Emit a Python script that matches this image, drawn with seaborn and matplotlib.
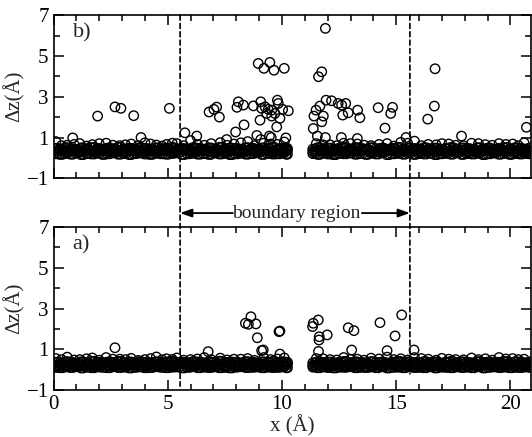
import numpy as np
import pandas as pd
import matplotlib
matplotlib.use("Agg")
import matplotlib.pyplot as plt
import seaborn as sns
from matplotlib.ticker import MultipleLocator, FixedLocator
from matplotlib.patches import ConnectionPatch, ArrowStyle

# ---------------- data ----------------
band_x = [0.05, 0.28, 0.5, 0.74, 0.96, 1.2, 1.43, 1.65, 1.9, 2.12, 2.35, 2.6, 2.82, 3.05, 3.3,
          3.52, 3.75, 3.98, 4.22, 4.45, 4.68, 4.92, 5.15, 5.38, 5.6, 5.85, 6.08, 6.3, 6.55, 6.78,
          7.0, 7.25, 7.48, 7.7, 7.95, 8.18, 8.4, 8.65, 8.88, 9.1, 9.35, 9.58, 9.8, 10.02, 10.18,
          11.35, 11.55, 11.78, 12.0, 12.25, 12.48, 12.7, 12.95, 13.18, 13.4, 13.65, 13.88, 14.1,
          14.35, 14.58, 14.8, 15.05, 15.28, 15.5, 15.75, 15.98, 16.2, 16.45, 16.68, 16.9, 17.15,
          17.38, 17.6, 17.85, 18.08, 18.3, 18.55, 18.78, 19.0, 19.25, 19.48, 19.7, 19.95, 20.18,
          20.4, 20.62, 20.82]
band_x2 = [0.16, 0.39, 0.62, 0.85, 1.08, 1.31, 1.54, 1.78, 2.01, 2.24, 2.47, 2.71, 2.94, 3.17,
           3.41, 3.63, 3.86, 4.1, 4.33, 4.56, 4.8, 5.03, 5.26, 5.49, 5.72, 5.96, 6.19, 6.42, 6.66,
           6.89, 7.12, 7.36, 7.59, 7.82, 8.06, 8.29, 8.52, 8.76, 8.99, 9.22, 9.46, 9.69, 9.91,
           10.1, 10.24, 11.45, 11.66, 11.89, 12.12, 12.36, 12.59, 12.82, 13.06, 13.29, 13.52,
           13.76, 13.99, 14.22, 14.46, 14.69, 14.92, 15.16, 15.39, 15.62, 15.86, 16.09, 16.32,
           16.56, 16.79, 17.02, 17.26, 17.49, 17.72, 17.96, 18.19, 18.42, 18.66, 18.89, 19.12,
           19.36, 19.59, 19.82, 20.06, 20.29, 20.51, 20.72, 20.88]

# panel b) band levels
b_lo = [0.2, 0.17, 0.22, 0.18, 0.24, 0.16, 0.21, 0.19, 0.23, 0.17, 0.2, 0.25, 0.18, 0.22, 0.16,
        0.21, 0.24, 0.19, 0.17, 0.23, 0.2, 0.18, 0.22, 0.25, 0.16, 0.2, 0.23, 0.18, 0.21, 0.17,
        0.24, 0.19, 0.22, 0.16, 0.2, 0.23, 0.18, 0.21, 0.25, 0.17, 0.22, 0.19, 0.2, 0.24, 0.18,
        0.21, 0.17, 0.23, 0.19, 0.16, 0.22, 0.2, 0.24, 0.18, 0.21, 0.17, 0.23, 0.19, 0.25, 0.16,
        0.2, 0.22, 0.18, 0.24, 0.17, 0.21, 0.19, 0.23, 0.16, 0.2, 0.22, 0.18, 0.25, 0.17, 0.21,
        0.19, 0.23, 0.16, 0.2, 0.24, 0.18, 0.22, 0.17, 0.21, 0.19, 0.23, 0.2]
b_mid = [0.33, 0.36, 0.31, 0.38, 0.34, 0.3, 0.37, 0.32, 0.35, 0.39, 0.31, 0.34, 0.37, 0.3, 0.36,
         0.33, 0.38, 0.31, 0.35, 0.32, 0.37, 0.34, 0.3, 0.36, 0.39, 0.33, 0.31, 0.37, 0.35, 0.32,
         0.34, 0.38, 0.3, 0.36, 0.33, 0.31, 0.37, 0.35, 0.32, 0.38, 0.34, 0.3, 0.36, 0.33, 0.37,
         0.32, 0.35, 0.38, 0.31, 0.34, 0.36, 0.3, 0.37, 0.33, 0.35, 0.39, 0.31, 0.34, 0.32, 0.37,
         0.35, 0.3, 0.36, 0.33, 0.38, 0.31, 0.34, 0.37, 0.32, 0.35, 0.3, 0.36, 0.33, 0.38, 0.31,
         0.35, 0.32, 0.37, 0.34, 0.3, 0.36, 0.33, 0.38, 0.31, 0.35, 0.32, 0.34]
b_hi = [0.47, 0.43, 0.5, 0.45, 0.42, 0.49, 0.44, 0.51, 0.46, 0.43, 0.48, 0.45, 0.52, 0.44, 0.47,
        0.42, 0.5, 0.46, 0.43, 0.49, 0.45, 0.48, 0.51, 0.44, 0.46, 0.42, 0.5, 0.47, 0.43, 0.49,
        0.45, 0.52, 0.44, 0.48, 0.46, 0.43, 0.5, 0.47, 0.42, 0.49, 0.45, 0.51, 0.44, 0.48, 0.46,
        0.43, 0.5, 0.45, 0.48, 0.42, 0.47, 0.51, 0.44, 0.49, 0.46, 0.43, 0.5, 0.45, 0.48, 0.42,
        0.47, 0.52, 0.44, 0.49, 0.46, 0.43, 0.5, 0.45, 0.48, 0.42, 0.47, 0.51, 0.44, 0.49, 0.46,
        0.43, 0.5, 0.45, 0.48, 0.42, 0.47, 0.51, 0.44, 0.49, 0.46, 0.43, 0.48]

# panel a) band levels
a_lo = [0.12, 0.1, 0.14, 0.11, 0.15, 0.09, 0.13, 0.1, 0.14, 0.12, 0.1, 0.15, 0.11, 0.13, 0.09,
        0.12, 0.14, 0.1, 0.11, 0.15, 0.12, 0.1, 0.13, 0.14, 0.09, 0.12, 0.15, 0.1, 0.13, 0.11,
        0.14, 0.1, 0.12, 0.09, 0.13, 0.15, 0.11, 0.12, 0.14, 0.1, 0.13, 0.11, 0.12, 0.15, 0.1,
        0.13, 0.1, 0.14, 0.11, 0.09, 0.13, 0.12, 0.15, 0.1, 0.12, 0.11, 0.14, 0.1, 0.15, 0.09,
        0.12, 0.13, 0.1, 0.14, 0.11, 0.12, 0.1, 0.15, 0.09, 0.13, 0.12, 0.1, 0.14, 0.11, 0.13,
        0.1, 0.15, 0.09, 0.12, 0.14, 0.11, 0.13, 0.1, 0.12, 0.11, 0.14, 0.12]
a_mid = [0.24, 0.27, 0.21, 0.28, 0.23, 0.2, 0.26, 0.22, 0.25, 0.29, 0.21, 0.24, 0.27, 0.2, 0.26,
         0.23, 0.28, 0.21, 0.25, 0.22, 0.27, 0.24, 0.2, 0.26, 0.29, 0.23, 0.21, 0.27, 0.25, 0.22,
         0.24, 0.28, 0.2, 0.26, 0.23, 0.21, 0.27, 0.25, 0.22, 0.28, 0.24, 0.2, 0.26, 0.23, 0.27,
         0.22, 0.25, 0.28, 0.21, 0.24, 0.26, 0.2, 0.27, 0.23, 0.25, 0.29, 0.21, 0.24, 0.22, 0.27,
         0.25, 0.2, 0.26, 0.23, 0.28, 0.21, 0.24, 0.27, 0.22, 0.25, 0.2, 0.26, 0.23, 0.28, 0.21,
         0.25, 0.22, 0.27, 0.24, 0.2, 0.26, 0.23, 0.28, 0.21, 0.25, 0.22, 0.24]
a_hi = [0.37, 0.34, 0.4, 0.36, 0.33, 0.39, 0.35, 0.42, 0.37, 0.34, 0.38, 0.36, 0.41, 0.35, 0.38,
        0.33, 0.4, 0.36, 0.34, 0.39, 0.36, 0.38, 0.41, 0.35, 0.37, 0.33, 0.4, 0.38, 0.34, 0.39,
        0.36, 0.42, 0.35, 0.38, 0.37, 0.34, 0.4, 0.37, 0.33, 0.39, 0.36, 0.41, 0.35, 0.38, 0.37,
        0.34, 0.4, 0.36, 0.38, 0.33, 0.37, 0.41, 0.35, 0.39, 0.36, 0.34, 0.4, 0.36, 0.38, 0.33,
        0.37, 0.42, 0.35, 0.39, 0.36, 0.34, 0.4, 0.36, 0.38, 0.33, 0.37, 0.41, 0.35, 0.39, 0.36,
        0.34, 0.4, 0.36, 0.38, 0.33, 0.37, 0.41, 0.35, 0.39, 0.36, 0.34, 0.38]

fringe_x = [0.1, 0.6, 1.15, 1.7, 2.3, 2.9, 3.4, 4.0, 4.5, 4.95, 5.4, 6.0, 6.6, 7.3, 7.9, 8.5,
            9.2, 9.8, 10.1, 11.5, 12.1, 12.7, 13.3, 13.9, 14.6, 15.2, 15.8, 16.4, 17.0, 17.6,
            18.3, 18.9, 19.5, 20.1, 20.6]
fringe_x2 = [0.35, 0.9, 1.45, 2.0, 2.6, 3.15, 3.7, 4.25, 4.75, 5.2, 5.7, 6.3, 6.9, 7.6, 8.2,
             8.8, 9.5, 11.8, 12.4, 13.0, 13.6, 14.25, 14.9, 15.5, 16.1, 16.75, 17.3, 17.95,
             18.6, 19.2, 19.8, 20.35]
b_fringe = [0.8, 0.62, 0.7, 0.65, 0.72, 0.6, 0.68, 0.74, 0.63, 0.66, 0.7, 0.85, 0.62, 0.75,
            0.68, 0.8, 0.72, 0.66, 0.78, 0.7, 0.64, 0.72, 0.68, 0.6, 0.7, 0.76, 0.82, 0.66,
            0.7, 0.62, 0.72, 0.65, 0.7, 0.68, 0.74]
b_fringe2 = [0.6, 0.66, 0.58, 0.7, 0.62, 0.64, 0.6, 0.68, 0.58, 0.72, 0.6, 0.66, 0.7, 0.62,
             0.74, 0.6, 0.68, 0.64, 0.6, 0.7, 0.62, 0.66, 0.58, 0.72, 0.6, 0.64, 0.68, 0.6,
             0.7, 0.62, 0.66, 0.6]
a_fringe = [0.55, 0.62, 0.5, 0.58, 0.6, 0.52, 0.56, 0.5, 0.63, 0.54, 0.58, 0.5, 0.6, 0.57,
            0.52, 0.55, 0.6, 0.53, 0.58, 0.55, 0.5, 0.6, 0.52, 0.57, 0.62, 0.54, 0.6, 0.52,
            0.56, 0.5, 0.58, 0.54, 0.6, 0.55, 0.52]
a_fringe2 = [0.5, 0.48, 0.54, 0.47, 0.52, 0.5, 0.46, 0.55, 0.49, 0.51, 0.47, 0.53, 0.5, 0.48,
             0.52, 0.46, 0.5, 0.54, 0.48, 0.51, 0.47, 0.53, 0.5, 0.48, 0.55, 0.47, 0.52, 0.49,
             0.5, 0.47, 0.53, 0.5]

# outliers
b_out_x = [0.84, 1.93, 2.69, 2.95, 3.51, 3.83, 5.07, 5.75, 6.27, 6.81, 7.02, 7.14, 7.26, 7.58,
           7.97, 8.03, 8.09, 8.31, 8.34, 8.75, 8.9, 8.96, 9.21, 9.47, 9.65, 10.1, 9.07, 9.11,
           9.26, 9.4, 9.55, 9.8, 9.84, 9.69, 10.03, 10.28, 9.91, 9.04, 9.77, 9.55, 9.33, 9.45,
           9.53, 10.17, 9.07, 11.9, 11.74, 11.6, 11.93, 12.17, 11.66, 11.49, 11.4, 11.81, 11.74,
           11.37, 11.55, 11.9, 12.46, 12.61, 12.79, 12.66, 12.9, 13.31, 13.41, 14.21, 14.84,
           14.76, 14.51, 16.7, 16.67, 16.38, 12.6, 13.3, 15.43, 17.86, 20.7]
b_out_y = [0.98, 2.05, 2.5, 2.43, 2.07, 1.0, 2.43, 1.23, 1.07, 2.25, 2.38, 2.49, 2.0, 0.9,
           1.27, 2.48, 2.75, 2.59, 1.62, 2.55, 1.1, 4.63, 4.39, 4.68, 4.3, 4.39, 2.75, 2.43,
           2.5, 2.38, 2.34, 2.83, 2.67, 2.18, 2.38, 2.31, 1.94, 1.85, 1.52, 2.05, 2.18, 1.07,
           1.0, 0.98, 0.9, 6.35, 4.22, 3.98, 2.83, 2.8, 2.54, 2.34, 2.05, 2.05, 1.77,
           1.44, 1.07, 1.0, 2.67, 2.59, 2.67, 2.1, 2.21, 2.34, 1.97, 2.46, 2.48,
           2.18, 1.46, 4.37, 2.54, 1.9, 1.0, 0.95, 1.0, 1.07, 1.5]
a_out_x = [2.69, 6.77, 8.64, 8.4, 8.53, 8.86, 8.92, 9.87, 9.91, 9.11, 9.18, 9.91, 11.59, 11.37,
           11.34, 11.63, 11.98, 11.62, 12.9, 13.15, 14.29, 15.24, 14.95, 15.78, 13.05, 11.6,
           14.6]
a_out_y = [1.08, 0.89, 2.6, 2.28, 2.23, 2.25, 1.57, 1.87, 1.9, 0.94, 0.97, 0.77, 2.44, 2.28,
           2.12, 1.62, 1.71, 1.46, 2.06, 1.92, 2.31, 2.69, 1.66, 0.97, 0.97, 0.9, 0.94]

boundary_x = [5.54, 15.6]
x_ticks = [0, 5, 10, 15, 20]
y_ticks = [-1, 1, 3, 5, 7]


def panel_frame(lo, mid, hi, fringe, fringe2, ox, oy):
    xs = band_x * 3 + band_x2 * 3 + fringe_x + fringe_x2 + ox
    ys = lo + mid + hi + mid + hi + lo + fringe + fringe2 + oy
    return pd.DataFrame({"x": xs, "dz": ys})


df_b = panel_frame(b_lo, b_mid, b_hi, b_fringe, b_fringe2, b_out_x, b_out_y)
df_a = panel_frame(a_lo, a_mid, a_hi, a_fringe, a_fringe2, a_out_x, a_out_y)

# ---------------- style ----------------
sns.set_style("ticks")
plt.rcParams["font.family"] = ["Liberation Serif", "DejaVu Serif"]
plt.rcParams["axes.linewidth"] = 1.2

fig = plt.figure(figsize=(5.32, 4.37), dpi=100)
ax_b = fig.add_axes([0.1006, 0.592, 0.8975, 0.3734])
ax_a = fig.add_axes([0.1006, 0.1071, 0.8975, 0.3735])

for ax, df, lab in ((ax_b, df_b, "b)"), (ax_a, df_a, "a)")):
    sns.scatterplot(data=df, x="x", y="dz", ax=ax, marker="o", s=46,
                    facecolor="none", edgecolor="black", linewidth=1.0, legend=False)
    ax.set_xlim(0, 20.9)
    ax.set_ylim(-1, 7)
    ax.xaxis.set_major_locator(FixedLocator(x_ticks))
    ax.xaxis.set_minor_locator(MultipleLocator(1))
    ax.yaxis.set_major_locator(FixedLocator(y_ticks))
    ax.yaxis.set_minor_locator(MultipleLocator(1))
    ax.tick_params(which="both", direction="in", top=True, right=True,
                   width=1.1, colors="black", labelsize=15)
    ax.tick_params(which="major", length=7, pad=3.5)
    ax.tick_params(which="minor", length=4.5)
    ax.set_ylabel("Δz(Å)", fontsize=15)
    ax.yaxis.set_label_coords(-0.06, 0.5)
    ax.text(0.04, 0.89, lab, transform=ax.transAxes, fontsize=16,
            ha="left", va="center")
    for sp in ax.spines.values():
        sp.set_color("black")

ax_b.set_xlabel("")
ax_b.tick_params(labelbottom=False)
ax_a.set_xlabel("x (Å)", fontsize=15)
ax_a.xaxis.set_label_coords(0.5, -0.15)

# dashed boundary lines spanning both panels
for xv, ybot in zip(boundary_x, [-0.8, -0.2]):
    con = ConnectionPatch(xyA=(xv, 7), coordsA=ax_b.transData,
                          xyB=(xv, ybot), coordsB=ax_a.transData,
                          linestyle=(0, (3, 2)), linewidth=1.2, color="black")
    fig.add_artist(con)

# boundary region label with arrows
tr = ax_b.get_xaxis_transform()
yy = -0.213
ax_b.text(10.64, yy, "boundary region", transform=tr, ha="center", va="center",
          fontsize=14, clip_on=False)
astyle = ArrowStyle("-|>", head_length=0.7, head_width=0.25)
ax_b.annotate("", xy=(boundary_x[0], yy), xycoords=tr, xytext=(7.85, yy), textcoords=tr,
              arrowprops=dict(arrowstyle=astyle, color="black", lw=1.3,
                              shrinkA=0, shrinkB=0))
ax_b.annotate("", xy=(boundary_x[1], yy), xycoords=tr, xytext=(13.5, yy), textcoords=tr,
              arrowprops=dict(arrowstyle=astyle, color="black", lw=1.3,
                              shrinkA=0, shrinkB=0))

fig.savefig("out.png", dpi=100)
